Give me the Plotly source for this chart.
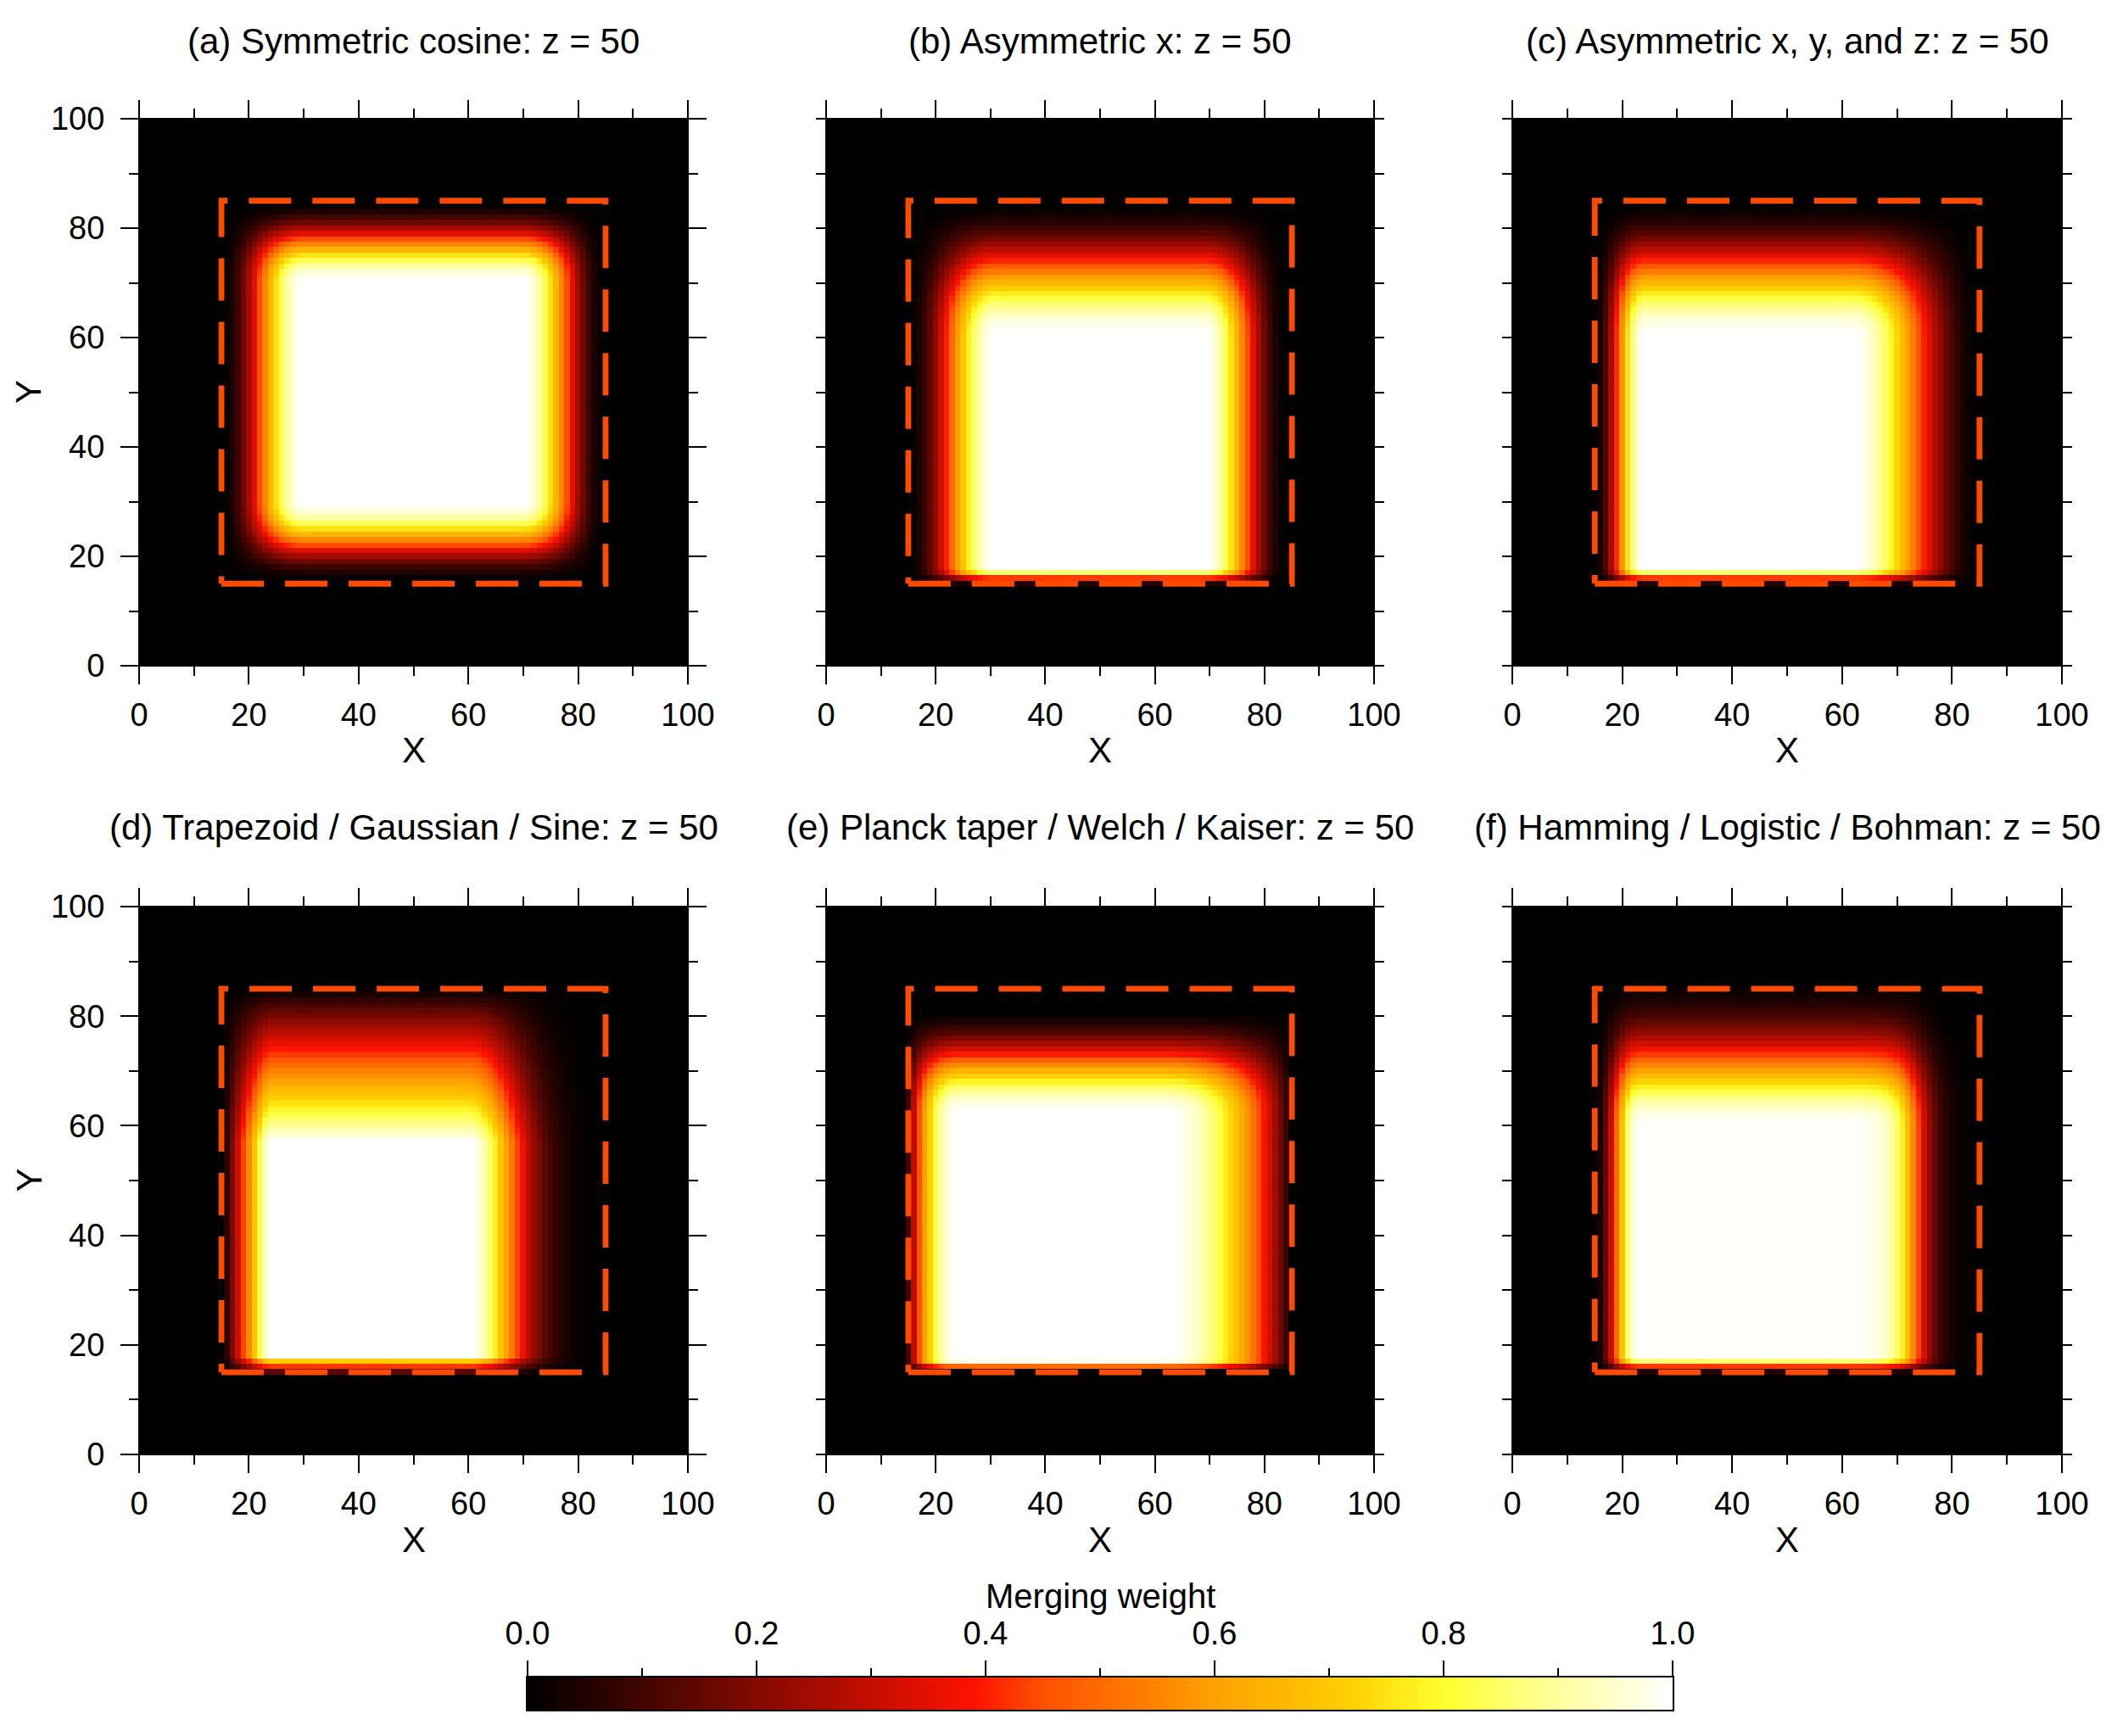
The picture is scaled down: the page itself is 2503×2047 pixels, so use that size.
import numpy as np
import plotly.graph_objects as go
from plotly.subplots import make_subplots

# ---- data ----
panel_titles = [
    "(a) Symmetric cosine: z = 50",
    "(b) Asymmetric x: z = 50",
    "(c) Asymmetric x, y, and z: z = 50",
    "(d) Trapezoid / Gaussian / Sine: z = 50",
    "(e) Planck taper / Welch / Kaiser: z = 50",
    "(f) Hamming / Logistic / Bohman: z = 50",
]
grid_x = list(range(0, 101))
grid_y = list(range(0, 101))

# region that gets merged (dashed box)
box_x = [15, 85, 85, 15, 15]
box_y = [15, 15, 85, 85, 15]

# taper edges per panel: where the weight is 0 and where it reaches 1
left_zero = [15, 15, 15, 15.5, 14.5, 15]
left_flat = [30, 31, 24, 23.5, 24, 23]
left_shape = ["cos", "cos", "cos", "linear", "welch", "cos"]
right_flat = [70, 69, 62, 60, 62, 62]
right_zero = [85, 84, 85, 85, 85, 85]
right_shape = ["cos", "cos", "cos", "gauss", "welch", "logistic"]
bottom_zero = [15, 14.5, 14.5, 14.5, 14.8, 14.5]
bottom_flat = [30, 17.8, 17.8, 18, 17.2, 17.8]
bottom_shape = ["cos", "cos", "cos", "linear", "cos", "cos"]
top_flat = [70, 60, 60, 57, 62, 60]
top_zero = [85, 85, 85, 85, 81.5, 90]
top_shape = ["cos", "cos", "cos", "linear", "cos", "bohman"]

cbar_ticks = [0.0, 0.2, 0.4, 0.6, 0.8, 1.0]
hot_scale = [
    [0.0, "#000000"], [0.39, "#ff1200"], [0.45, "#ff5000"], [0.54, "#ff8000"],
    [0.6, "#ffa000"], [0.72, "#ffd000"], [0.8, "#ffff30"], [0.87, "#ffff80"],
    [1.0, "#ffffff"],
]


def taper(coord, zero, flat, kind):
    raw = (np.asarray(coord, dtype=float) - zero) / (flat - zero)
    t = np.clip(raw, 0, 1)
    u = 1 - t
    if kind == "cos":
        w = 0.5 * (1 - np.cos(np.pi * t))
    elif kind == "linear":
        w = t
    elif kind == "welch":
        w = 1 - u ** 2
    elif kind == "gauss":
        w = np.exp(-0.5 * (u / 0.28) ** 2)
    elif kind == "logistic":
        w = 1 / (1 + np.exp((u - 0.5) * 11.5))
    else:  # bohman
        w = (1 - u) * np.cos(np.pi * u) + np.sin(np.pi * u) / np.pi
    return np.where(raw <= 0, 0.0, w)


def weights(i):
    wx = taper(grid_x, left_zero[i], left_flat[i], left_shape[i]) * \
        taper(grid_x, right_zero[i], right_flat[i], right_shape[i])
    wy = taper(grid_y, bottom_zero[i], bottom_flat[i], bottom_shape[i]) * \
        taper(grid_y, top_zero[i], top_flat[i], top_shape[i])
    gx = np.array(grid_x)
    gy = np.array(grid_y)
    wx = np.where((gx >= 15) & (gx <= 85), wx, 0)
    wy = np.where((gy >= 15) & (gy <= 85), wy, 0)
    return np.outer(wy, wx)


W, H = 2503, 2047
OFF = 8  # page body margin


def px(v):
    return (v - OFF) / W


def py(v):
    return 1 - (v - OFF) / H


xdom = [[px(164), px(811)], [px(974), px(1620)], [px(1783), px(2431)]]
ydom = [[py(785), py(140)], [py(1715), py(1069)]]
FONT = "Liberation Sans, Arial, Helvetica, sans-serif"
TXT = 42

fig = make_subplots(rows=2, cols=3)

for i in range(6):
    r, c = i // 3 + 1, i % 3 + 1
    fig.add_trace(go.Heatmap(
        x=grid_x, y=grid_y, z=weights(i), zmin=0, zmax=1,
        colorscale=hot_scale, showscale=False, hoverinfo="skip",
    ), row=r, col=c)
    fig.add_trace(go.Scatter(
        x=box_x, y=box_y, mode="lines", hoverinfo="skip", showlegend=False,
        line=dict(color="#ff4a00", width=6.8, dash="50px,25px"),
    ), row=r, col=c)

    labelled = (c == 1)
    fig.update_xaxes(
        domain=xdom[c - 1], range=[0, 100], dtick=20, tick0=0, automargin=False,
        ticks="outside", ticklen=21, tickwidth=1.6, tickcolor="black",
        minor=dict(dtick=10, ticks="outside", ticklen=10.5, tickwidth=1.6, tickcolor="black"),
        showline=True, linewidth=1.2, linecolor="black", mirror="ticks",
        showgrid=False, zeroline=False, ticklabelstandoff=3,
        tickfont=dict(size=38), row=r, col=c)
    fig.update_yaxes(
        domain=ydom[r - 1], range=[0, 100], dtick=20, tick0=0, automargin=False,
        ticks="outside", ticklen=21 if labelled else 10.5, tickwidth=1.6, tickcolor="black",
        minor=dict(dtick=10, ticks="outside", ticklen=10.5, tickwidth=1.6, tickcolor="black"),
        showline=True, linewidth=1.2, linecolor="black", mirror="ticks",
        showgrid=False, zeroline=False, showticklabels=labelled, ticklabelstandoff=11,
        tickfont=dict(size=38), row=r, col=c)

# colour bar drawn on its own small axis pair
fig.add_trace(go.Heatmap(
    x=cbar_ticks, y=[0, 1], z=[cbar_ticks, cbar_ticks], zmin=0, zmax=1,
    colorscale=hot_scale, showscale=False, zsmooth="best", hoverinfo="skip",
    xaxis="x7", yaxis="y7"))
fig.update_layout(
    xaxis7=dict(domain=[px(622), px(1972)], range=[0, 1], anchor="y7", side="top",
                tickvals=cbar_ticks, tickformat=".1f", ticks="outside", ticklen=18,
                tickwidth=1.6, tickcolor="black", automargin=False,
                minor=dict(dtick=0.1, ticks="outside", ticklen=9, tickwidth=1.6, tickcolor="black"),
                showline=True, linewidth=2, linecolor="black", mirror=True,
                showgrid=False, zeroline=False,
                ticklabelstandoff=4, tickfont=dict(size=38)),
    yaxis7=dict(domain=[py(2016), py(1978)], range=[0, 1], anchor="x7",
                showline=True, linewidth=2, linecolor="black", mirror=True,
                ticks="", showticklabels=False, showgrid=False, zeroline=False,
                automargin=False),
)

annotations = []
title_y = [py(48), py(975)]
xlabel_y = [py(884), py(1815)]
for i, title in enumerate(panel_titles):
    r, c = i // 3, i % 3
    xc = sum(xdom[c]) / 2
    annotations.append(dict(text=title, x=xc, y=title_y[r], xref="paper", yref="paper",
                            showarrow=False, xanchor="center", yanchor="middle",
                            font=dict(size=TXT)))
    annotations.append(dict(text="X", x=xc, y=xlabel_y[r], xref="paper", yref="paper",
                            showarrow=False, xanchor="center", yanchor="middle",
                            font=dict(size=TXT)))
for r in range(2):
    annotations.append(dict(text="Y", x=0, y=sum(ydom[r]) / 2, xref="paper",
                            yref="paper", showarrow=False, textangle=-90,
                            xanchor="left", yanchor="middle", font=dict(size=TXT)))
annotations.append(dict(text="Merging weight", x=px(1297), y=py(1882),
                        xref="paper", yref="paper", showarrow=False,
                        xanchor="center", yanchor="middle", font=dict(size=40)))

fig.update_layout(
    width=W, height=H, margin=dict(l=0, r=0, t=0, b=0, autoexpand=False),
    paper_bgcolor="white", plot_bgcolor="white",
    font=dict(family=FONT, size=38, color="black"),
    showlegend=False, annotations=annotations,
)

fig.write_html("out.html")
